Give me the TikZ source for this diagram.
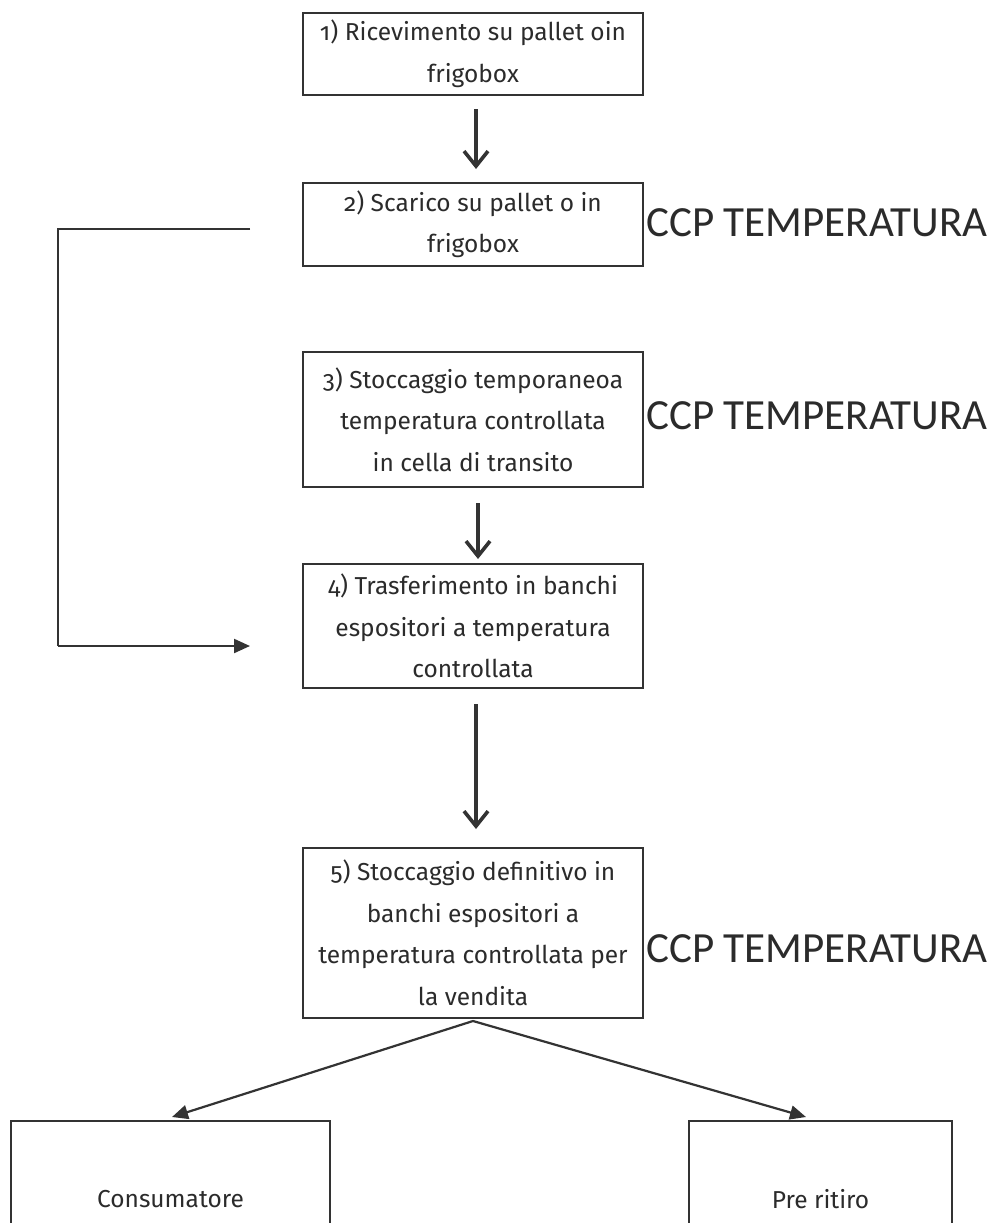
\documentclass[tikz,border=0pt]{standalone}
\usepackage{fontspec}
\setmainfont{Fira Sans}[Numbers=OldStyle]
\newfontfamily\ccpfont{Carlito}
\usetikzlibrary{arrows.meta,calc}
\definecolor{linec}{HTML}{333333}
\definecolor{txtc}{HTML}{2B2B2B}
\begin{document}
\begin{tikzpicture}[x=1pt,y=-1pt,
  box/.style={draw=linec, line width=2pt, inner sep=0pt, align=center,
    font=\fontsize{24.5}{41.5}\selectfont, text=txtc, minimum width=340pt},
  endbox/.style={draw=linec, line width=2pt, inner sep=0pt, align=center,
    font=\fontsize{24.5}{41.5}\selectfont, text=txtc, minimum height=156pt},
  ccp/.style={anchor=base west, inner sep=0pt, text=txtc,
    font=\ccpfont\fontsize{43}{50}\selectfont},
  varrow/.style={draw=linec, line width=3.4pt,
    -{Straight Barb[length=15pt,width=24pt,line width=3.6pt]}},
  farrow/.style={draw=linec, line width=2.2pt,
    -{Triangle[length=16pt,width=14pt]}},
  fline/.style={draw=linec, line width=2.2pt}
]
\useasboundingbox (0,0) rectangle (989,1223);
\clip (0,0) rectangle (989,1223);
\fill[white] (0,0) rectangle (989,1223);

\node[box, minimum height=82pt] (b1) at (473,54) {1) Ricevimento su pallet oin\\frigobox};
\node[box, minimum height=83pt] (b2) at (473,224.5) {2) Scarico su pallet o in\\frigobox};
\node[box, minimum height=135pt] (b3) at (473,419.5) {3) Stoccaggio temporaneoa\\temperatura controllata\\in cella di transito};
\node[box, minimum height=124pt] (b4) at (473,626) {4) Trasferimento in banchi\\espositori a temperatura\\controllata};
\node[box, minimum height=170pt] (b5) at (473,933) {5) Stoccaggio definitivo in\\banchi espositori a\\temperatura controllata per\\la vendita};

\node[endbox, minimum width=319pt] (cons) at (170.5,1199) {Consumatore};
\node[endbox, minimum width=263pt] (pre) at (820.5,1199) {Pre ritiro};

\node[ccp] (c1) at (646,236) {CCP TEMPERATURA};
\node[ccp] (c2) at (646,429) {CCP TEMPERATURA};
\node[ccp] (c3) at (646,962) {CCP TEMPERATURA};

\draw[varrow] ([xshift=3pt,yshift=-13pt]b1.south) -- ([xshift=3pt,yshift=13pt]b2.north);
\draw[varrow] ([xshift=5pt,yshift=-15pt]b3.south) -- ([xshift=5pt,yshift=4pt]b4.north);
\draw[varrow] ([xshift=3pt,yshift=-15pt]b4.south) -- ([xshift=3pt,yshift=18pt]b5.north);

\coordinate (fa) at (250,229);
\coordinate (fb) at (58,229);
\coordinate (fc) at (58,646);
\coordinate (fd) at (250,646);
\draw[fline] (fa) -- (fb) -- (fc);
\draw[farrow] (fc) -- (fd);

\coordinate (apex) at ([yshift=-2pt]b5.south);
\coordinate (tl) at (172,1117);
\coordinate (tr) at (806,1117);
\draw[farrow] (apex) -- (tl);
\draw[farrow] (apex) -- (tr);
\end{tikzpicture}
\end{document}
